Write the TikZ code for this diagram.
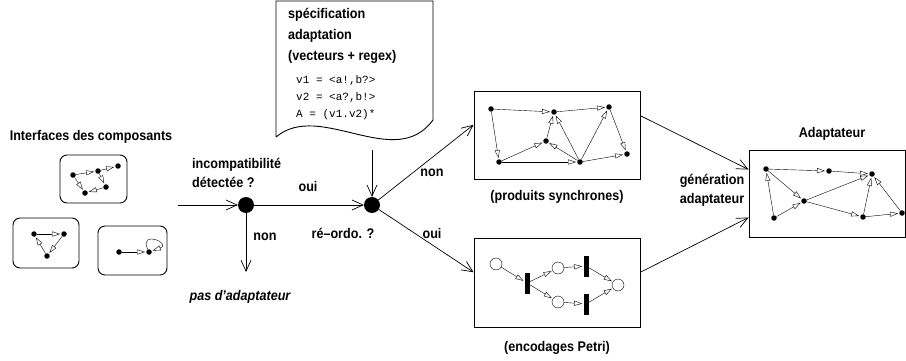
\documentclass[tikz,border=0pt]{standalone}
\usepackage{fontspec}
\setmainfont{Liberation Sans}[FakeStretch=0.9]
\setmonofont{Liberation Mono}
\usetikzlibrary{arrows.meta}

\begin{document}
\begin{tikzpicture}[x=1pt, y=1pt, thin,
  lbl/.style = {font=\fontsize{14}{19}\selectfont\bfseries, inner sep=0pt},
  dot/.style = {circle, fill, inner sep=0pt, minimum size=5.5pt},
  junc/.style = {circle, fill, inner sep=0pt, minimum size=16pt},
  comp/.style = {draw, rounded corners=7pt, line width=0.9pt},
  box/.style = {draw, line width=0.9pt},
  place/.style = {circle, draw, inner sep=0pt, minimum size=12pt},
  trans/.style = {fill, inner sep=0pt, minimum width=5pt, minimum height=21pt},
  ga/.style = {-{Triangle[open, length=8pt, width=5pt]}, shorten >=1pt},
  flow/.style = {-{Straight Barb[length=11pt, width=10pt]}, line width=0.7pt}]
\useasboundingbox (0,0) rectangle (906,-361);

% interfaces des composants
\node[lbl] (titre) at (91,-137) {Interfaces des composants};
\node[comp, minimum width=67pt, minimum height=48pt] (c1) at (93.5,-179) {};
\node[dot] (i1) at (73,-175) {};
\node[dot] (i2) at (98,-171) {};
\node[dot] (i3) at (118,-166) {};
\node[dot] (i4) at (85,-193) {};
\node[dot] (i5) at (106,-187) {};
\draw[ga] (i1) -- (i2);
\draw[ga] (i2) -- (i3);
\draw[ga] (i1) -- (i4);
\draw[ga] (i2) -- (i5);
\draw[ga] (i5) -- (i4);

\node[comp, minimum width=66pt, minimum height=50pt] (c2) at (46,-243) {};
\node[dot] (k1) at (34,-234) {};
\node[dot] (k2) at (64,-234) {};
\node[dot] (k3) at (47,-256) {};
\draw[ga] (k1) -- (k2);
\draw[ga] (k2) -- (k3);
\draw[ga] (k3) -- (k1);

\node[comp, minimum width=69pt, minimum height=49pt] (c3) at (132.5,-250.5) {};
\node[dot] (m1) at (119,-252) {};
\node[dot] (m2) at (149,-252) {};
\draw[ga] (m1) -- (m2);
\draw[ga] (m2) to[out=115, in=20, min distance=22pt] (m2);

% tests
\coordinate (entree) at (178,-205);
\node[junc] (j1) at (246,-205) {};
\node[junc] (j2) at (372,-205) {};
\coordinate (stop) at (246,-272);
\draw[flow] (entree) -- (j1);
\draw[flow] (j1) -- (j2);
\draw[flow] (j1) -- (stop);
\node[lbl, align=left, anchor=north west] (incomp) at (192,-158) {incompatibilité\\détectée ?};
\node[lbl] (oui1) at (308,-186) {oui};
\node[lbl] (non1) at (265,-237) {non};
\node[lbl] (reordo) at (343,-233) {ré--ordo. ?};
\node[lbl, font=\fontsize{14}{19}\selectfont\bfseries\itshape] (pasad) at (240,-297) {pas d'adaptateur};

% specification
\draw[line width=0.9pt] (276,-137) -- (276,-1) -- (433,-1) -- (433,-120)
  .. controls (395,-172) and (320,-100) .. (276,-137);
\node[lbl, align=left, anchor=north west, font=\fontsize{14}{21}\selectfont\bfseries] (spec) at (288,-8) {spécification\\adaptation\\(vecteurs + regex)};
\node[align=left, anchor=north west, inner sep=0pt, font=\ttfamily\fontsize{11}{17}\selectfont] (code) at (296,-75) {v1 = <a!,b?>\\v2 = <a?,b!>\\A = (v1.v2)*};
\coordinate (docb) at (372,-150);
\draw[flow] (docb) -- (j2);

% produits synchrones
\node[box, minimum width=166pt, minimum height=88pt] (sync) at (557,-135) {};
\node[lbl] (syncl) at (557,-197) {(produits synchrones)};
\node[dot] (s1) at (491,-109) {};
\node[dot] (s2) at (554,-112) {};
\node[dot] (s3) at (609,-107) {};
\node[dot] (s4) at (546,-141) {};
\node[dot] (s5) at (499,-162) {};
\node[dot] (s6) at (580,-162) {};
\node[dot] (s7) at (627,-154) {};
\draw[ga] (s1) -- (s2);
\draw[ga] (s2) -- (s3);
\draw[ga] (s1) -- (s5);
\draw[ga] (s5) -- (s4);
\draw[ga] (s4) -- (s2);
\draw[ga] (s5) -- (s6);
\draw[ga] (s6) -- (s4);
\draw[ga] (s6) -- (s2);
\draw[ga] (s6) -- (s3);
\draw[ga] (s3) -- (s7);
\draw[ga] (s6) -- (s7);

% encodages Petri
\node[box, minimum width=166pt, minimum height=89pt] (petri) at (557,-282.5) {};
\node[lbl] (petril) at (557,-348) {(encodages Petri)};
\node[place] (p1) at (496,-264) {};
\node[trans] (t1) at (527,-283) {};
\node[place] (p2) at (558,-268) {};
\node[place] (p3) at (558,-302) {};
\node[trans] (t2) at (586,-266) {};
\node[trans] (t3) at (586,-304) {};
\node[place] (p4) at (618,-285) {};
\draw[ga] (p1) -- (t1);
\draw[ga] (t1) -- (p2);
\draw[ga] (t1) -- (p3);
\draw[ga] (p2) -- (t2);
\draw[ga] (p3) -- (t3);
\draw[ga] (t2) -- (p4);
\draw[ga] (t3) -- (p4);

\draw[flow] (j2) -- (sync.173);
\draw[flow] (j2) -- (petri.173);
\node[lbl] (non2) at (432,-173) {non};
\node[lbl] (oui2) at (432,-233) {oui};

% adaptateur
\node[box, minimum width=156pt, minimum height=87pt] (adapt) at (827,-193.5) {};
\node[lbl] (adaptl) at (832,-134) {Adaptateur};
\node[lbl, align=center] (gen) at (712,-190) {génération\\adaptateur};
\node[dot] (a1) at (766,-169) {};
\node[dot] (a2) at (829,-171) {};
\node[dot] (a3) at (872,-174) {};
\node[dot] (a4) at (804,-201) {};
\node[dot] (a5) at (774,-218) {};
\node[dot] (a6) at (863,-217) {};
\node[dot] (a7) at (902,-213) {};
\draw[ga] (a1) -- (a2);
\draw[ga] (a2) -- (a3);
\draw[ga] (a1) -- (a4);
\draw[ga] (a4) -- (a3);
\draw[ga] (a5) -- (a1);
\draw[ga] (a5) -- (a4);
\draw[ga] (a4) -- (a6);
\draw[ga] (a6) -- (a3);
\draw[ga] (a6) -- (a7);
\draw[ga] (a7) -- (a3);
\draw[flow] (sync.13) -- (adapt.163);
\draw[flow] (petri.7) -- (adapt.197);
\end{tikzpicture}
\end{document}
